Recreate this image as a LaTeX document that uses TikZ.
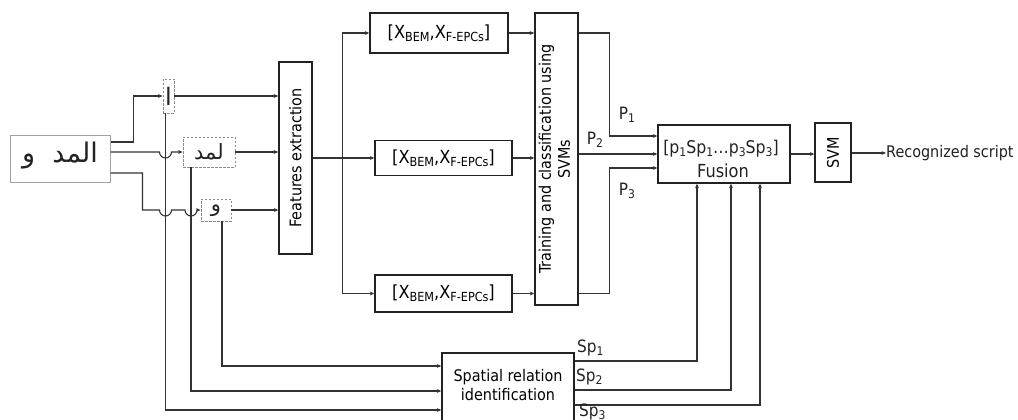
\documentclass[tikz,border=0pt]{standalone}
\usepackage{fontspec}
\setmainfont{DejaVu Sans Condensed}
\newfontfamily\arabicfont[Script=Arabic]{DejaVu Sans}
\TeXXeTstate=1
\usetikzlibrary{arrows.meta,calc}
\definecolor{linec}{HTML}{333333}
\definecolor{boxc}{HTML}{222222}
\definecolor{dashc}{HTML}{8A8A8A}
\newcommand\mysub[1]{\raisebox{-0.3ex}{\fontsize{12}{12}\selectfont #1}}
\newcommand\xsub[1]{\raisebox{-0.35ex}{\fontsize{12.5}{12}\selectfont #1}}
\begin{document}
\begin{tikzpicture}[x=1pt,y=-1pt,
  font=\fontsize{16}{19}\selectfont,
  box/.style={draw=boxc,line width=1.4pt,inner sep=0pt,fill=white},
  dbox/.style={draw=dashc,line width=0.9pt,dash pattern=on 2.5pt off 1.5pt,inner sep=0pt},
  arr/.style={draw=linec,line width=1.1pt,-{Stealth[length=4.5pt,width=3.8pt]}},
  lbl/.style={inner sep=0pt,text=boxc},
  big/.style={font=\fontsize{18}{20}\selectfont},
  mid/.style={font=\fontsize{17}{19}\selectfont}]
\fill[white] (0,0) rectangle (1018,420);
\useasboundingbox (0,0) rectangle (1018,420);
% input
\node[draw=dashc!80,line width=1pt,inner sep=0pt,minimum width=100pt,minimum height=47pt] (in) at (60,158.5) {};
\node[lbl] (intext) at (60,156) {\fontsize{27}{27}\arabicfont\beginR المد\ \ و\endR};
% pieces
\node[dbox,minimum width=11pt,minimum height=34pt] (a) at (168.5,96) {};
\node[lbl] (atext) at (a) {\fontsize{24}{24}\arabicfont\beginR ا\endR};
\node[dbox,minimum width=52pt,minimum height=30pt] (b) at (209,152) {};
\node[lbl] (btext) at (b) {\fontsize{21}{21}\arabicfont\beginR لمد\endR};
\node[dbox,minimum width=30pt,minimum height=22pt] (c) at (216,210) {};
\node[lbl] (ctext) at ([yshift=-1pt]c.center) {\fontsize{21}{21}\arabicfont\beginR و\endR};
% main boxes
\node[box,minimum width=33pt,minimum height=192pt] (fe) at (295.5,158) {\rotatebox{90}{Features extraction}};
\node[box,big,minimum width=138pt,minimum height=40pt] (x1) at (439,33) {[X\xsub{BEM},X\xsub{F-EPCs}]};
\node[box,big,minimum width=137pt,minimum height=35pt] (x2) at (443.5,158) {[X\xsub{BEM},X\xsub{F-EPCs}]};
\node[box,big,minimum width=137pt,minimum height=37pt] (x3) at (443.5,293.5) {[X\xsub{BEM},X\xsub{F-EPCs}]};
\node[box,minimum width=43pt,minimum height=292pt] (tr) at (556.5,159) {\rotatebox{90}{\begin{tabular}{@{}c@{}}Training and classification using\\[0pt]SVMs\end{tabular}}};
\node[box,minimum width=132pt,minimum height=58pt] (fu) at (724,154) {};
\node[lbl,font=\fontsize{17.5}{20}\selectfont] (futext1) at (721,149) {[p\mysub{1}Sp\mysub{1}…p\mysub{3}Sp\mysub{3}]};
\node[lbl,big] (futext2) at (723,171) {Fusion};
\node[box,minimum width=36pt,minimum height=59pt] (svm) at (833,152.5) {\rotatebox{90}{SVM}};
\node[lbl,anchor=west] (rs) at (886,153) {Recognized script};
\node[box,minimum width=132pt,minimum height=68pt] (sp) at (508,387) {\begin{tabular}{@{}c@{}}Spatial relation\\identification\end{tabular}};
% vertical tap points
\coordinate (va) at ([xshift=-3pt]a.south);
\coordinate (vb) at ([xshift=-18pt]b.south);
\coordinate (vc) at ([xshift=6pt]c.south);
% input to pieces
\draw[arr] ([yshift=16.5pt]in.east) -- ++(23,0) |- (a.west);
\draw[arr] (in.east |- b.west) -- ($(va |- b.west)+(-6,0)$) arc[start angle=180,end angle=360,radius=6pt] -- (b.west);
\draw[arr] ([yshift=-14.5pt]in.east) -- ++(32,0) |- ($(va |- c.west)+(-6,0)$) arc[start angle=180,end angle=360,radius=6pt] -- ($(vb |- c.west)+(-6,0)$) arc[start angle=180,end angle=360,radius=6pt] -- (c.west);
% pieces to features
\draw[arr] (a.east) -- (a.east -| fe.west);
\draw[arr] (b.east) -- (b.east -| fe.west);
\draw[arr] (c.east) -- (c.east -| fe.west);
% pieces to spatial
\draw[arr] (va) |- ([yshift=-23pt]sp.west);
\draw[arr] (vb) |- ([yshift=-4pt]sp.west);
\draw[arr] (vc) |- ([yshift=21pt]sp.west);
% features to vectors
\coordinate (j) at ([xshift=30pt]fe.east);
\draw[arr] (fe.east) -- (x2.west);
\draw[arr] (j) |- (x1.west);
\draw[arr] (j) |- (x3.west);
% vectors to training
\draw[arr] (x1.east) -- (x1.east -| tr.west);
\draw[arr] (x2.east) -- (x2.east -| tr.west);
\draw[arr] (x3.east) -- (x3.east -| tr.west);
% training to fusion
\draw[arr] (tr.east |- x1.east) -- ++(31,0) |- ([yshift=18pt]fu.west);
\draw[arr] (tr.east |- fu.west) -- (fu.west);
\draw[arr] (tr.east |- x3.east) -- ++(31,0) |- ([yshift=-14pt]fu.west);
\node[lbl,mid] (p1) at (627,115) {P\mysub{1}};
\node[lbl,mid] (p2) at (595,140) {P\mysub{2}};
\node[lbl,mid] (p3) at (627,191) {P\mysub{3}};
% fusion to svm to output
\draw[arr] (fu.east) -- (fu.east -| svm.west);
\draw[arr] (svm.east |- rs.west) -- (rs.west);
% spatial to fusion
\draw[arr] ([yshift=26pt]sp.east) -| ([xshift=-27pt]fu.south);
\draw[arr] ([yshift=-3pt]sp.east) -| ([xshift=7pt]fu.south);
\draw[arr] ([yshift=-18pt]sp.east) -| ([xshift=36pt]fu.south);
\node[lbl,mid,anchor=west] (s1) at (577,348) {Sp\mysub{1}};
\node[lbl,mid,anchor=west] (s2) at (576,377) {Sp\mysub{2}};
\node[lbl,mid,anchor=west] (s3) at (579,412) {Sp\mysub{3}};
\end{tikzpicture}
\end{document}
